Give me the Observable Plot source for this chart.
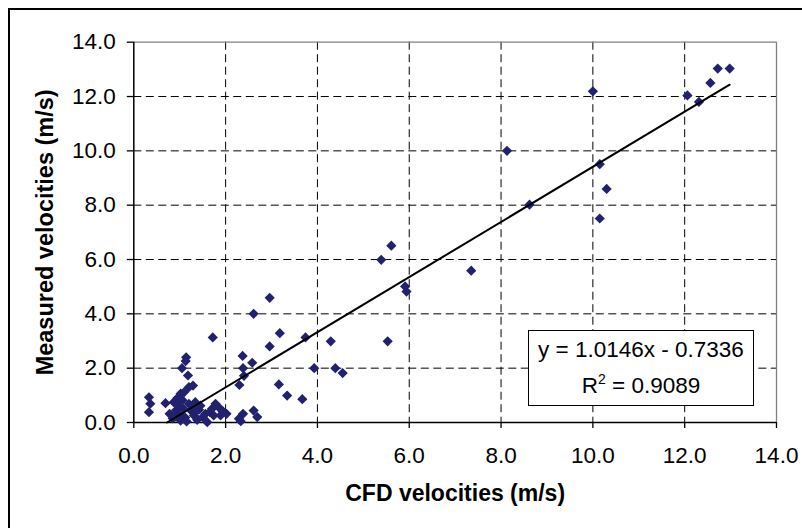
<!DOCTYPE html>
<html>
<head>
<meta charset="utf-8">
<script src="https://cdn.jsdelivr.net/npm/d3@7"></script>
<script src="https://cdn.jsdelivr.net/npm/@observablehq/plot@0.6"></script>
<style>
  html, body { margin: 0; padding: 0; background: #fff; }
  body { width: 802px; height: 528px; position: relative; overflow: hidden; font-family: "Liberation Sans", Arial, sans-serif; }
  #outer { position: absolute; left: 8px; top: 8px; width: 900px; height: 700px; border-left: 2px solid #000; border-top: 2px solid #000; }
  #chart { position: absolute; left: 0; top: 0; }
  #eq { position: absolute; left: 528px; top: 330px; width: 224px; height: 73px; border: 1px solid #000; background: #fff;
        font-size: 22.5px; line-height: 36px; text-align: center; padding-top: 1px; color: #000; }
  #eq .sup { font-size: 14px; vertical-align: 9px; line-height: 0; }
</style>
</head>
<body>
<div id="outer"></div>
<div id="chart"></div>
<div id="eq"></div>
<script>
// CFD velocities (m/s)
const cfdVelocity = [
  8.13, 8.62, 10.00, 10.15, 10.30, 10.15, 12.06, 12.31, 12.56, 12.72, 12.98,
  7.35, 5.61, 5.39, 5.91, 5.94, 3.74, 4.29, 5.53, 3.93, 4.39, 4.55, 3.67,
  2.96, 2.61, 1.72, 3.18, 2.96, 2.37, 2.58, 2.38, 1.14, 1.13, 1.05, 1.18, 1.29, 1.20, 1.10, 1.02,
  2.30, 2.40, 3.16, 3.34,
  0.33, 0.36, 0.33, 0.69, 0.87, 0.78, 1.02, 1.20, 1.34, 1.09, 1.42, 1.31, 1.60, 1.56, 1.78, 1.85,
  1.74, 1.89, 2.02, 2.29, 2.38, 2.61, 2.69,
  0.85, 0.92, 0.97, 1.00, 1.06, 1.12, 1.15, 1.24, 1.28, 1.38, 1.45, 1.50, 1.66, 1.70, 1.95, 0.95, 0.90, 1.35, 2.33
];
// Measured velocities (m/s)
const measuredVelocity = [
  10.00, 8.02, 12.19, 9.51, 8.60, 7.51, 12.04, 11.80, 12.50, 13.03, 13.03,
  5.59, 6.51, 5.99, 5.01, 4.82, 3.13, 2.99, 2.99, 2.00, 2.00, 1.82, 0.86,
  4.59, 4.00, 3.13, 3.29, 2.80, 2.45, 2.20, 2.00, 2.40, 2.26, 2.00, 1.73, 1.36, 1.30, 1.12, 1.06,
  1.38, 1.72, 1.40, 0.99,
  0.93, 0.69, 0.38, 0.71, 0.75, 0.32, 0.07, 0.69, 0.75, 0.50, 0.47, 0.26, 0.01, 0.32, 0.69, 0.56,
  0.26, 0.26, 0.32, 0.14, 0.32, 0.44, 0.20,
  0.15, 0.45, 0.62, 0.28, 0.82, 0.18, 0.04, 0.45, 0.62, 0.10, 0.62, 0.20, 0.38, 0.50, 0.40, 0.90, 0.22, 0.40, 0.05
];
// linear fit shown on the chart
const fitSlope = 1.0146;
const fitIntercept = -0.7336;
const fitR2 = 0.9089;

const axisTicks = [0, 2, 4, 6, 8, 10, 12, 14];
const gridTicks = [2, 4, 6, 8, 10, 12];
const xTitle = "CFD velocities (m/s)";
const yTitle = "Measured velocities (m/s)";

const points = cfdVelocity.map((x, i) => ({x, y: measuredVelocity[i]}));
const xStart = -fitIntercept / fitSlope;
const xEnd = d3.max(cfdVelocity);
const fitLine = [xStart, xEnd].map(x => ({x, y: fitSlope * x + fitIntercept}));

const fmt = d3.format(".1f");
const dash = "8,4.5";

const plot = Plot.plot({
  width: 802,
  height: 528,
  marginLeft: 133.3,
  marginRight: 26,
  marginTop: 41.7,
  marginBottom: 106,
  style: { fontFamily: "'Liberation Sans', Arial, sans-serif", fontSize: "22.5px", background: "transparent", overflow: "visible", color: "#000" },
  x: { domain: [0, 14] },
  y: { domain: [0, 14] },
  marks: [
    Plot.ruleX(gridTicks, { stroke: "#000", strokeWidth: 1, strokeDasharray: dash }),
    Plot.ruleY(gridTicks, { stroke: "#000", strokeWidth: 1, strokeDasharray: dash }),
    Plot.ruleX([14], { stroke: "#808080", strokeWidth: 1.3 }),
    Plot.ruleY([14], { stroke: "#808080", strokeWidth: 1.3 }),
    Plot.ruleX([0], { stroke: "#000", strokeWidth: 1.5 }),
    Plot.ruleY([0], { stroke: "#000", strokeWidth: 1.5 }),
    Plot.axisX({ ticks: axisTicks, tickFormat: fmt, tickSize: 6, tickPadding: 19, label: null, stroke: "#000", strokeWidth: 1.3 }),
    Plot.axisY({ ticks: axisTicks, tickFormat: fmt, tickSize: 6.5, tickPadding: 11.5, label: null, stroke: "#000", strokeWidth: 1.3 }),
    Plot.dot(points, { x: "x", y: "y", symbol: "diamond2", r: 4.6, fill: "#21216f", stroke: "none" }),
    Plot.line(fitLine, { x: "x", y: "y", stroke: "#000", strokeWidth: 2 }),
    Plot.text([xTitle], { frameAnchor: "bottom", dy: 71, text: d => d, fontWeight: "bold", fontSize: 23, textAnchor: "middle", lineAnchor: "middle" }),
    Plot.text([yTitle], { frameAnchor: "left", dx: -88, text: d => d, fontWeight: "bold", fontSize: 23.5, rotate: -90, textAnchor: "middle", lineAnchor: "middle" })
  ]
});
document.getElementById("chart").appendChild(plot);

document.getElementById("eq").innerHTML =
  `y = ${fitSlope.toFixed(4)}x - ${Math.abs(fitIntercept).toFixed(4)}<br>R<span class="sup">2</span> = ${fitR2.toFixed(4)}`;
</script>
</body>
</html>
